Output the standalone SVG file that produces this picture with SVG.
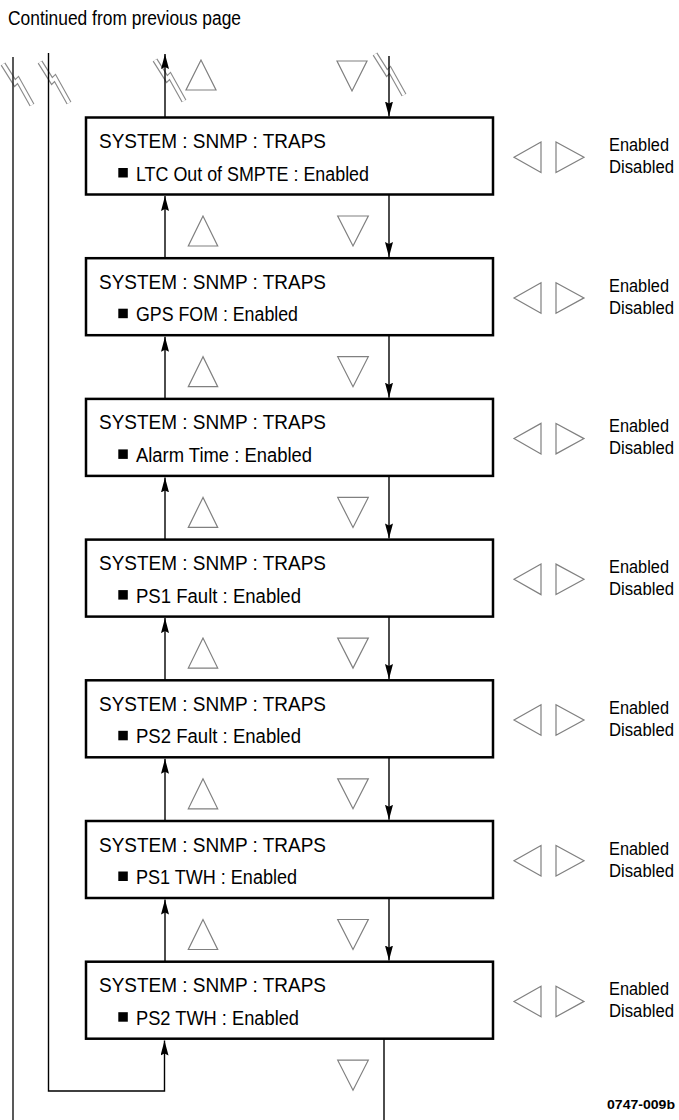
<svg xmlns="http://www.w3.org/2000/svg" width="679" height="1120" viewBox="0 0 679 1120">
<style>
.bg{fill:#fff}
.box{fill:#fff;stroke:#000;stroke-width:2.5}
.t{font-family:"Liberation Sans Narrow","Liberation Sans",Arial,sans-serif;font-size:19.5px;fill:#000}
.o{font-family:"Liberation Sans Narrow","Liberation Sans",Arial,sans-serif;font-size:17.5px;fill:#000}
.small{font-family:"Liberation Sans Narrow","Liberation Sans",Arial,sans-serif;font-size:12px;font-weight:bold;fill:#000}
.tri{fill:none;stroke:#808080;stroke-width:1.2;stroke-linejoin:miter}
.arr{fill:none;stroke:#000;stroke-width:1.4}
.ln{fill:none;stroke:#222;stroke-width:1.5}
.brk1{fill:none;stroke:#8a8a8a;stroke-width:5.5;stroke-linejoin:miter}
.brk2{fill:none;stroke:#fff;stroke-width:3.2;stroke-linejoin:miter}
</style>
<defs>
<marker id="ah" markerUnits="userSpaceOnUse" viewBox="0 0 15 8" markerWidth="15" markerHeight="8" refX="15" refY="4" orient="auto">
<path d="M0,0 L15,4 L0,8 L2,4 z" fill="#000"/>
</marker>
<path id="zz" d="M0,0 L12,19 L15,16 L29,41"/>
</defs>
<rect class="bg" x="0" y="0" width="679" height="1120"/>

<text class="t" x="8" y="25" textLength="233" lengthAdjust="spacingAndGlyphs">Continued from previous page</text>

<g id="breaks">
<use href="#zz" class="brk1" x="3" y="64"/><use href="#zz" class="brk2" x="3" y="64"/>
<use href="#zz" class="brk1" x="40" y="62"/><use href="#zz" class="brk2" x="40" y="62"/>
<use href="#zz" class="brk1" x="155" y="60"/><use href="#zz" class="brk2" x="155" y="60"/>
<use href="#zz" class="brk1" x="375" y="54"/><use href="#zz" class="brk2" x="375" y="54"/>
</g>

<g id="connectors">
<path class="ln" d="M13,57 V1120"/>
<path class="arr" d="M48.5,53 V1091 H164.5 V1040.5" marker-end="url(#ah)"/>
<path class="arr" d="M165,117.5 V54" marker-end="url(#ah)"/>
<path class="arr" d="M389,56 V116.5" marker-end="url(#ah)"/>
<path class="arr" d="M165,258.2 V196" marker-end="url(#ah)"/>
<path class="arr" d="M389,194.5 V257" marker-end="url(#ah)"/>
<path class="arr" d="M165,398.9 V336.7" marker-end="url(#ah)"/>
<path class="arr" d="M389,335.2 V397.7" marker-end="url(#ah)"/>
<path class="arr" d="M165,539.6 V477.4" marker-end="url(#ah)"/>
<path class="arr" d="M389,475.9 V538.4" marker-end="url(#ah)"/>
<path class="arr" d="M165,680.3 V618.1" marker-end="url(#ah)"/>
<path class="arr" d="M389,616.6 V679.1" marker-end="url(#ah)"/>
<path class="arr" d="M165,821 V758.8" marker-end="url(#ah)"/>
<path class="arr" d="M389,757.3 V819.8" marker-end="url(#ah)"/>
<path class="arr" d="M165,961.7 V899.5" marker-end="url(#ah)"/>
<path class="arr" d="M389,898 V960.5" marker-end="url(#ah)"/>
<path class="arr" d="M384,1038.7 V1120"/>
</g>

<g id="nav">
<polygon class="tri" points="201,60 186,90 216,90"/>
<polygon class="tri" points="337,61 367,61 352,91"/>
<polygon class="tri" points="203,216 188.3,246 217.7,246"/>
<polygon class="tri" points="337.7,216 368.3,216 353,246"/>
<polygon class="tri" points="203,356.7 188.3,386.7 217.7,386.7"/>
<polygon class="tri" points="337.7,356.7 368.3,356.7 353,386.7"/>
<polygon class="tri" points="203,497.4 188.3,527.4 217.7,527.4"/>
<polygon class="tri" points="337.7,497.4 368.3,497.4 353,527.4"/>
<polygon class="tri" points="203,638.1 188.3,668.1 217.7,668.1"/>
<polygon class="tri" points="337.7,638.1 368.3,638.1 353,668.1"/>
<polygon class="tri" points="203,778.8 188.3,808.8 217.7,808.8"/>
<polygon class="tri" points="337.7,778.8 368.3,778.8 353,808.8"/>
<polygon class="tri" points="203,919.5 188.3,949.5 217.7,949.5"/>
<polygon class="tri" points="337.7,919.5 368.3,919.5 353,949.5"/>
<polygon class="tri" points="337.7,1060.2 368.3,1060.2 353,1090.2"/>
</g>

<g id="node1">
<rect class="box" x="86" y="117.5" width="407" height="77"/>
<text class="t" x="99" y="148" textLength="227" lengthAdjust="spacingAndGlyphs">SYSTEM : SNMP : TRAPS</text>
<rect x="118.3" y="168" width="9.5" height="9.5" fill="#000"/>
<text class="t" x="136" y="180.5" textLength="233" lengthAdjust="spacingAndGlyphs">LTC Out of SMPTE : Enabled</text>
<polygon class="tri" points="541,142 541,172.5 514,157.2"/>
<polygon class="tri" points="556,142 556,172.5 584,157.2"/>
<text class="o" x="609" y="151" textLength="60" lengthAdjust="spacingAndGlyphs">Enabled</text>
<text class="o" x="609" y="173" textLength="65" lengthAdjust="spacingAndGlyphs">Disabled</text>
</g>

<g id="node2">
<rect class="box" x="86" y="258.2" width="407" height="77"/>
<text class="t" x="99" y="288.7" textLength="227" lengthAdjust="spacingAndGlyphs">SYSTEM : SNMP : TRAPS</text>
<rect x="118.3" y="308.7" width="9.5" height="9.5" fill="#000"/>
<text class="t" x="136" y="321.2" textLength="162" lengthAdjust="spacingAndGlyphs">GPS FOM : Enabled</text>
<polygon class="tri" points="541,282.7 541,313.2 514,297.9"/>
<polygon class="tri" points="556,282.7 556,313.2 584,297.9"/>
<text class="o" x="609" y="291.7" textLength="60" lengthAdjust="spacingAndGlyphs">Enabled</text>
<text class="o" x="609" y="313.7" textLength="65" lengthAdjust="spacingAndGlyphs">Disabled</text>
</g>

<g id="node3">
<rect class="box" x="86" y="398.9" width="407" height="77"/>
<text class="t" x="99" y="429.4" textLength="227" lengthAdjust="spacingAndGlyphs">SYSTEM : SNMP : TRAPS</text>
<rect x="118.3" y="449.4" width="9.5" height="9.5" fill="#000"/>
<text class="t" x="136" y="461.9" textLength="176" lengthAdjust="spacingAndGlyphs">Alarm Time : Enabled</text>
<polygon class="tri" points="541,423.4 541,453.9 514,438.6"/>
<polygon class="tri" points="556,423.4 556,453.9 584,438.6"/>
<text class="o" x="609" y="432.4" textLength="60" lengthAdjust="spacingAndGlyphs">Enabled</text>
<text class="o" x="609" y="454.4" textLength="65" lengthAdjust="spacingAndGlyphs">Disabled</text>
</g>

<g id="node4">
<rect class="box" x="86" y="539.6" width="407" height="77"/>
<text class="t" x="99" y="570.1" textLength="227" lengthAdjust="spacingAndGlyphs">SYSTEM : SNMP : TRAPS</text>
<rect x="118.3" y="590.1" width="9.5" height="9.5" fill="#000"/>
<text class="t" x="136" y="602.6" textLength="165" lengthAdjust="spacingAndGlyphs">PS1 Fault : Enabled</text>
<polygon class="tri" points="541,564.1 541,594.6 514,579.3"/>
<polygon class="tri" points="556,564.1 556,594.6 584,579.3"/>
<text class="o" x="609" y="573.1" textLength="60" lengthAdjust="spacingAndGlyphs">Enabled</text>
<text class="o" x="609" y="595.1" textLength="65" lengthAdjust="spacingAndGlyphs">Disabled</text>
</g>

<g id="node5">
<rect class="box" x="86" y="680.3" width="407" height="77"/>
<text class="t" x="99" y="710.8" textLength="227" lengthAdjust="spacingAndGlyphs">SYSTEM : SNMP : TRAPS</text>
<rect x="118.3" y="730.8" width="9.5" height="9.5" fill="#000"/>
<text class="t" x="136" y="743.3" textLength="165" lengthAdjust="spacingAndGlyphs">PS2 Fault : Enabled</text>
<polygon class="tri" points="541,704.8 541,735.3 514,720"/>
<polygon class="tri" points="556,704.8 556,735.3 584,720"/>
<text class="o" x="609" y="713.8" textLength="60" lengthAdjust="spacingAndGlyphs">Enabled</text>
<text class="o" x="609" y="735.8" textLength="65" lengthAdjust="spacingAndGlyphs">Disabled</text>
</g>

<g id="node6">
<rect class="box" x="86" y="821" width="407" height="77"/>
<text class="t" x="99" y="851.5" textLength="227" lengthAdjust="spacingAndGlyphs">SYSTEM : SNMP : TRAPS</text>
<rect x="118.3" y="871.5" width="9.5" height="9.5" fill="#000"/>
<text class="t" x="136" y="884" textLength="161" lengthAdjust="spacingAndGlyphs">PS1 TWH : Enabled</text>
<polygon class="tri" points="541,845.5 541,876 514,860.7"/>
<polygon class="tri" points="556,845.5 556,876 584,860.7"/>
<text class="o" x="609" y="854.5" textLength="60" lengthAdjust="spacingAndGlyphs">Enabled</text>
<text class="o" x="609" y="876.5" textLength="65" lengthAdjust="spacingAndGlyphs">Disabled</text>
</g>

<g id="node7">
<rect class="box" x="86" y="961.7" width="407" height="77"/>
<text class="t" x="99" y="992.2" textLength="227" lengthAdjust="spacingAndGlyphs">SYSTEM : SNMP : TRAPS</text>
<rect x="118.3" y="1012.2" width="9.5" height="9.5" fill="#000"/>
<text class="t" x="136" y="1024.7" textLength="163" lengthAdjust="spacingAndGlyphs">PS2 TWH : Enabled</text>
<polygon class="tri" points="541,986.2 541,1016.7 514,1001.4"/>
<polygon class="tri" points="556,986.2 556,1016.7 584,1001.4"/>
<text class="o" x="609" y="995.2" textLength="60" lengthAdjust="spacingAndGlyphs">Enabled</text>
<text class="o" x="609" y="1017.2" textLength="65" lengthAdjust="spacingAndGlyphs">Disabled</text>
</g>

<text class="small" x="607" y="1109" textLength="68" lengthAdjust="spacingAndGlyphs">0747-009b</text>
</svg>
